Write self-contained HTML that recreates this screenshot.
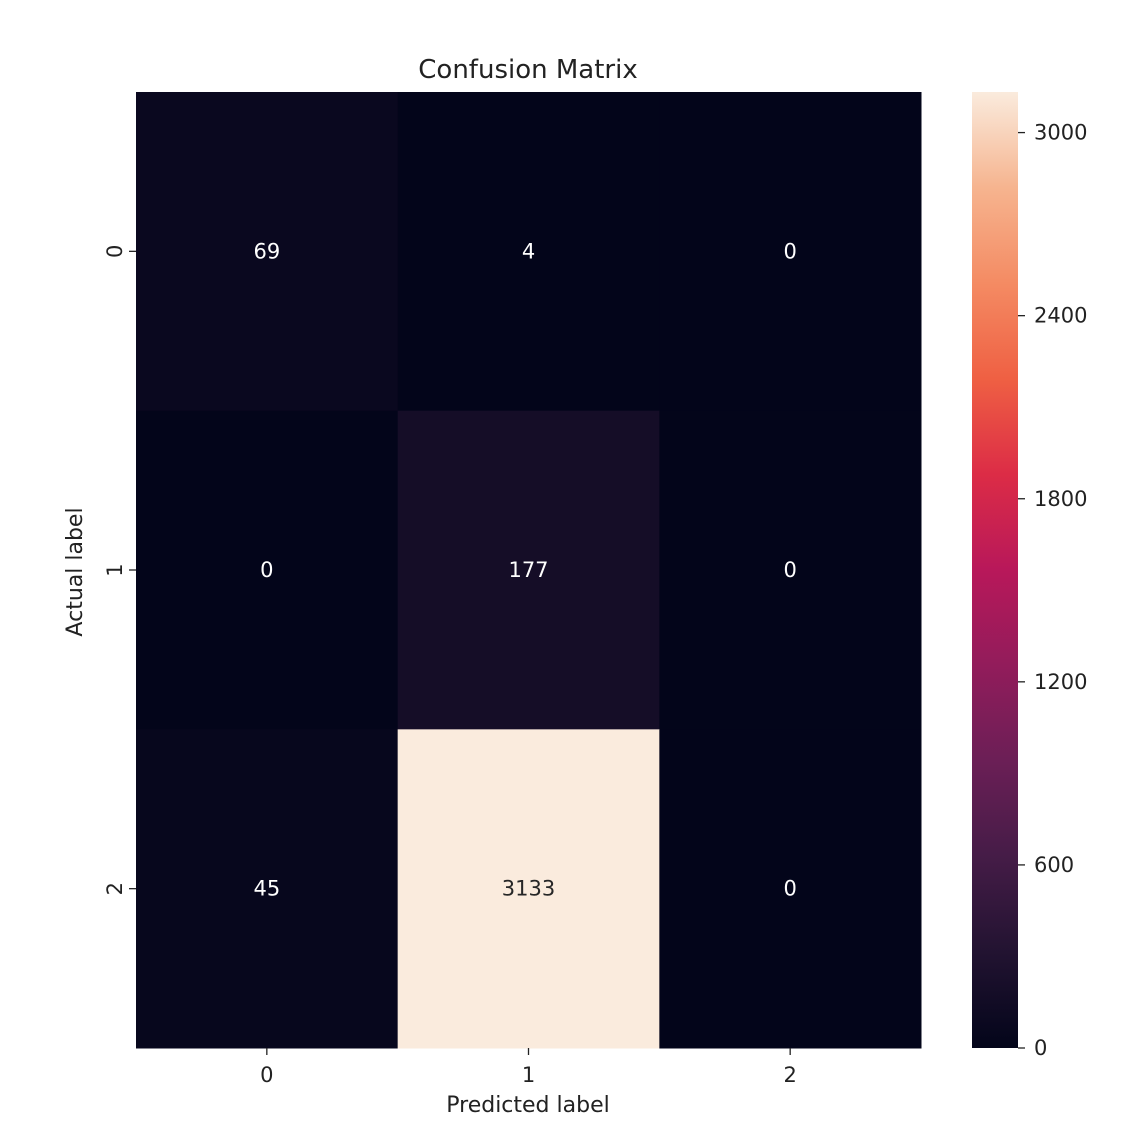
<!DOCTYPE html>
<html><head><meta charset="utf-8"><style>
html,body{margin:0;padding:0;background:#fff;}
svg text{font-family:"DejaVu Sans","Liberation Sans",sans-serif;}
</style></head><body>
<svg id="chart" width="1142" height="1140" xmlns="http://www.w3.org/2000/svg">
<defs>
<linearGradient id="rocket" x1="0" y1="1" x2="0" y2="0"></linearGradient>
</defs>
<text x="528" y="78" font-size="26" text-anchor="middle" fill="#222">Confusion Matrix</text>
<text x="528" y="1112" font-size="22" text-anchor="middle" fill="#222">Predicted label</text>
<text transform="translate(82,572) rotate(-90)" font-size="22" text-anchor="middle" fill="#222">Actual label</text>
<g id="cells"></g>
<g id="axes"></g>
<g id="cbar"></g>
</svg>
<script>
const rowLabels = ["0","1","2"];
const colLabels = ["0","1","2"];
const row0 = [69, 4, 0];
const row1 = [0, 177, 0];
const row2 = [45, 3133, 0];
const cbarTicks = [0, 600, 1200, 1800, 2400, 3000];

const rows = [row0, row1, row2];
const NS = "http://www.w3.org/2000/svg";
const L = 136, R = 921, T = 92, B = 1048;
const cw = (R - L) / colLabels.length, ch = (B - T) / rowLabels.length;
const vmin = 0, vmax = Math.max(...rows.flat());
const stops = [[0,[3,5,26]],[0.1,[34,19,49]],[0.2,[69,28,71]],[0.3,[107,31,86]],[0.4,[146,28,91]],[0.5,[184,24,90]],[0.6,[220,44,70]],[0.7,[239,96,67]],[0.8,[244,139,99]],[0.9,[246,180,143]],[1,[250,235,221]]];
function cmap(v){
  let t = Math.max(0, Math.min(1, (v - vmin) / (vmax - vmin)));
  for (let i = 1; i < stops.length; i++) {
    if (t <= stops[i][0]) {
      const a = stops[i-1], b = stops[i], f = (t - a[0]) / (b[0] - a[0]);
      const c = a[1].map((x, k) => Math.round(x + (b[1][k] - x) * f));
      return {css: `rgb(${c})`, lum: (0.299*c[0] + 0.587*c[1] + 0.114*c[2]) / 255};
    }
  }
}
const xPos = i => L + cw * (i + 0.5);
const yPos = j => T + ch * (j + 0.5);
function mk(tag, attrs, parent, text){
  const e = document.createElementNS(NS, tag);
  for (const k in attrs) e.setAttribute(k, attrs[k]);
  if (text !== undefined) e.textContent = text;
  parent.appendChild(e); return e;
}
const cells = document.getElementById('cells');
rows.forEach((row, j) => row.forEach((v, i) => {
  const c = cmap(v);
  const r = mk('rect', {x: L + cw*i, y: T + ch*j, width: cw + 0.5, height: ch + 0.5, fill: c.css}, cells);
  
  
  const t = mk('text', {x: xPos(i), y: yPos(j) + 7, 'font-size': 21, 'text-anchor': 'middle', fill: c.lum > 0.5 ? '#262626' : '#ffffff'}, cells, String(v));
  
  
}));
const axes = document.getElementById('axes');
colLabels.forEach((lab, i) => {
  mk('line', {x1: xPos(i), x2: xPos(i), y1: B, y2: B + 7, stroke: '#222', 'stroke-width': 1.3}, axes);
  const t = mk('text', {x: xPos(i), y: B + 34, 'font-size': 21, 'text-anchor': 'middle', fill: '#222'}, axes, lab);
  
  
});
rowLabels.forEach((lab, j) => {
  mk('line', {x1: L - 7, x2: L, y1: yPos(j), y2: yPos(j), stroke: '#222', 'stroke-width': 1.3}, axes);
  const t = mk('text', {transform: `translate(${L - 14},${yPos(j)}) rotate(-90)`, 'font-size': 21, 'text-anchor': 'middle', fill: '#222'}, axes, lab);
  
  
});
const grad = document.getElementById('rocket');
stops.forEach(s => mk('stop', {offset: s[0], 'stop-color': `rgb(${s[1]})`}, grad));
const CL = 972, CR = 1018;
const cy = v => B - (v - vmin) / (vmax - vmin) * (B - T);
const cb = document.getElementById('cbar');
const bar = mk('rect', {x: CL, y: T, width: CR - CL, height: B - T, fill: 'url(#rocket)'}, cb);


cbarTicks.forEach(v => {
  mk('line', {x1: CR, x2: CR + 7, y1: cy(v), y2: cy(v), stroke: '#222', 'stroke-width': 1.3}, cb);
  const t = mk('text', {x: CR + 16, y: cy(v) + 7, 'font-size': 21, fill: '#222'}, cb, String(v));
  
  
});
</script>
</body></html>
